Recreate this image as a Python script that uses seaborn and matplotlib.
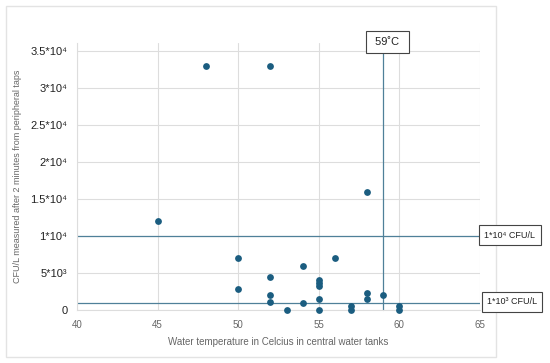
import matplotlib
matplotlib.use("Agg")
import matplotlib.pyplot as plt
import seaborn as sns
import pandas as pd
from matplotlib.patches import Rectangle

# water temperature (C) and CFU/L
temps = [45, 48, 52, 58, 50, 50, 52, 52, 52, 53, 54, 54, 55, 55, 55, 55, 55,
         56, 57, 57, 58, 58, 59, 60, 60]
cfu = [12000, 33000, 33000, 16000, 7000, 2800, 4400, 2000, 1050, 0, 6000, 1000,
       4000, 3700, 3300, 1450, 50, 7000, 500, 50, 2300, 1450, 2000, 500, 0]

yticks = [0, 5000, 10000, 15000, 20000, 25000, 30000, 35000]
ytick_labels = ["0", "5*10³", "1*10⁴", "1.5*10⁴", "2*10⁴", "2.5*10⁴", "3*10⁴", "3.5*10⁴"]
xticks = [40, 45, 50, 55, 60, 65]

limit_high = 10000
limit_low = 1000
temp_limit = 59

df = pd.DataFrame({"temp": temps, "cfu": cfu})

sns.set_style("white")
plt.rcParams["font.family"] = ["Liberation Sans", "DejaVu Sans"]

fig = plt.figure(figsize=(5.5, 3.63), dpi=100)
ax = fig.add_axes([0.14, 0.146, 0.7327, 0.7355])

line_col = "#4f8099"
dot_col = "#1b5d80"
grid_col = "#dddddd"

ax.set_xlim(40, 65)
ax.set_ylim(0, 36100)
ax.set_xticks(xticks)
ax.set_yticks(yticks)
ax.set_yticklabels(ytick_labels)
ax.grid(True, color=grid_col, linewidth=0.8)
ax.set_axisbelow(True)

for s in ["top", "right"]:
    ax.spines[s].set_visible(False)
for s in ["left", "bottom"]:
    ax.spines[s].set_color(grid_col)
    ax.spines[s].set_linewidth(0.8)

ax.tick_params(axis="y", length=0, pad=7, labelsize=8, labelcolor="#222222")
ax.tick_params(axis="x", length=0, pad=7, labelsize=7, labelcolor="#666666")

ax.axhline(limit_high, color=line_col, linewidth=0.9, zorder=2)
ax.axhline(limit_low, color=line_col, linewidth=0.9, zorder=2)
ax.plot([temp_limit, temp_limit], [0, 35000], color=line_col, linewidth=0.9,
        clip_on=False, zorder=2)

sns.scatterplot(data=df, x="temp", y="cfu", ax=ax, color=dot_col, s=24,
                edgecolor=dot_col, linewidth=0, zorder=3, clip_on=False)

ax.set_xlabel("Water temperature in Celcius in central water tanks",
              fontsize=7, color="#666666", labelpad=5)
ax.set_ylabel("CFU/L measured after 2 minutes from peripheral taps",
              fontsize=6.5, color="#666666", labelpad=6)

box = dict(boxstyle="square,pad=0.6", facecolor="white", edgecolor="#444444",
           linewidth=0.8)
ax.text(temp_limit + 0.25, 36250, " 59˚C ", ha="center", va="center", fontsize=8,
        color="#222222", zorder=5,
        bbox=dict(boxstyle="square,pad=0.55", facecolor="white",
                  edgecolor="#444444", linewidth=0.8))
fig.text(510 / 550, 1 - 235 / 363, "1*10⁴ CFU/L", ha="center", va="center",
         fontsize=6.5, color="#222222", bbox=box)
fig.text(512 / 550, 1 - 302 / 363, "1*10³ CFU/L", ha="center", va="center",
         fontsize=6.5, color="#222222", bbox=box)

fig.patches.append(Rectangle((6 / 550, 1 - 357 / 363), 490 / 550, 351 / 363,
                             transform=fig.transFigure, fill=False,
                             edgecolor="#e3e3e3", linewidth=1.0))

fig.savefig("out.png", dpi=100)
